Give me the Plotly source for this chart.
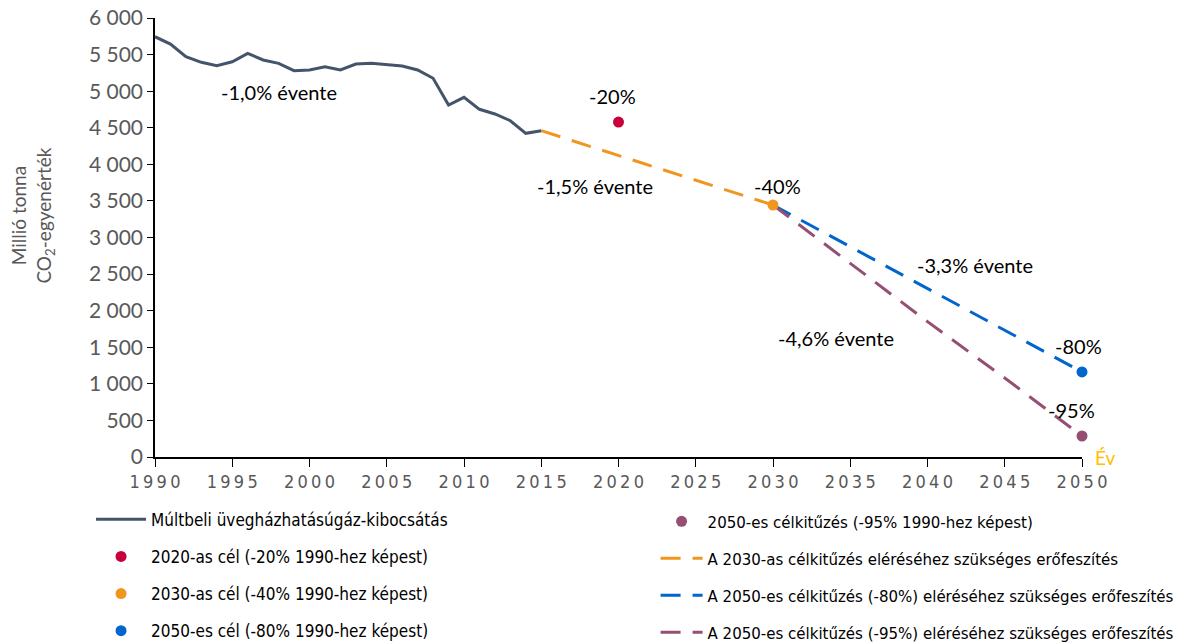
import plotly.graph_objects as go

# ---- data ----
hist_years = list(range(1990, 2016))
hist_values = [5744, 5644, 5471, 5394, 5348, 5402, 5517, 5426, 5380, 5280,
               5289, 5334, 5289, 5371, 5380, 5357, 5344, 5289, 5176, 4811,
               4916, 4752, 4688, 4596, 4424, 4460]

target2020_year = [2020]
target2020_value = [4578]
target2030_year = [2030]
target2030_value = [3444]
target2050_80_year = [2050]
target2050_80_value = [1162]
target2050_95_year = [2050]
target2050_95_value = [287]

path2030_years = [2015, 2020, 2025, 2030]
path2030_values = [4460, 4121, 3783, 3444]
path2050_80_years = [2030, 2035, 2040, 2045, 2050]
path2050_80_values = [3444, 2874, 2300, 1730, 1162]
path2050_95_years = [2030, 2035, 2040, 2045, 2050]
path2050_95_values = [3444, 2650, 1850, 1080, 287]

x_ticks = [1990, 1995, 2000, 2005, 2010, 2015, 2020, 2025, 2030, 2035, 2040, 2045, 2050]
y_ticks = [0, 500, 1000, 1500, 2000, 2500, 3000, 3500, 4000, 4500, 5000, 5500, 6000]

names = [
    "Múltbeli üvegházhatásúgáz-kibocsátás",
    "2020-as cél (-20% 1990-hez képest)",
    "2030-as cél (-40% 1990-hez képest)",
    "2050-es cél (-80% 1990-hez képest)",
    "2050-es célkitűzés (-95% 1990-hez képest)",
    "A 2030-as célkitűzés eléréséhez szükséges erőfeszítés",
    "A 2050-es célkitűzés (-80%) eléréséhez szükséges erőfeszítés",
    "A 2050-es célkitűzés (-95%) eléréséhez szükséges erőfeszítés",
]

label_texts = ["-1,0% évente", "-20%", "-1,5% évente", "-40%",
               "-3,3% évente", "-4,6% évente", "-80%", "-95%"]
label_x = [1998.0, 2019.6, 2018.5, 2030.3, 2043.1, 2034.1, 2049.8, 2049.3]
label_y = [4990, 4934, 3704, 3704, 2624, 1626, 1517, 642]

C_HIST = "#44546A"
C_RED = "#C8003C"
C_ORANGE = "#F0961E"
C_BLUE = "#0066CC"
C_PURPLE = "#954F72"

TXT = "Lato, Open Sans, sans-serif"
NARROW = "Liberation Sans Narrow, DejaVu Sans Condensed, Liberation Sans, sans-serif"
GREY = "#595959"

fig = go.Figure()
DASH = "20px,12px"

fig.add_trace(go.Scatter(x=path2030_years, y=path2030_values, mode="lines", name=names[5],
                         line=dict(color=C_ORANGE, width=3, dash=DASH), legend="legend2",
                         legendgroup="r2", legendrank=2, cliponaxis=False))
fig.add_trace(go.Scatter(x=path2050_80_years, y=path2050_80_values, mode="lines", name=names[6],
                         line=dict(color=C_BLUE, width=3, dash=DASH), legend="legend2",
                         legendgroup="r3", legendrank=3, cliponaxis=False))
fig.add_trace(go.Scatter(x=path2050_95_years, y=path2050_95_values, mode="lines", name=names[7],
                         line=dict(color=C_PURPLE, width=3, dash=DASH), legend="legend2",
                         legendgroup="r4", legendrank=4, cliponaxis=False))

fig.add_trace(go.Scatter(x=hist_years, y=hist_values, mode="lines", name=names[0],
                         line=dict(color=C_HIST, width=3), legendgroup="l1", legendrank=1,
                         cliponaxis=False))
fig.add_trace(go.Scatter(x=target2020_year, y=target2020_value, mode="markers", name=names[1],
                         marker=dict(color=C_RED, size=11), legendgroup="l2", legendrank=2,
                         cliponaxis=False))
fig.add_trace(go.Scatter(x=target2030_year, y=target2030_value, mode="markers", name=names[2],
                         marker=dict(color=C_ORANGE, size=11), legendgroup="l3", legendrank=3,
                         cliponaxis=False))
fig.add_trace(go.Scatter(x=target2050_80_year, y=target2050_80_value, mode="markers", name=names[3],
                         marker=dict(color=C_BLUE, size=11), legendgroup="l4", legendrank=4,
                         cliponaxis=False))
fig.add_trace(go.Scatter(x=target2050_95_year, y=target2050_95_value, mode="markers", name=names[4],
                         marker=dict(color=C_PURPLE, size=11), legend="legend2",
                         legendgroup="r1", legendrank=1, cliponaxis=False))

annotations = []
for t, xv, yv in zip(label_texts, label_x, label_y):
    annotations.append(dict(x=xv, y=yv, xref="x", yref="y", text=t, showarrow=False,
                            xanchor="center", yanchor="middle",
                            font=dict(family=TXT, size=20, color="#000000")))

annotations.append(dict(x=1.012, y=0, xref="paper", yref="y", text="Év", showarrow=False,
                        xanchor="left", yanchor="middle",
                        font=dict(family=TXT, size=19, color="#FFC000")))
annotations.append(dict(x=-0.1316, y=0.55, xref="paper", yref="paper",
                        text="Millió tonna<br>CO<sub>2</sub>-egyenérték",
                        textangle=-90, showarrow=False, xanchor="center", yanchor="middle",
                        font=dict(family=TXT, size=19, color=GREY)))

sp = "\u2009"
fig.update_layout(
    width=1182, height=642,
    margin=dict(l=155, r=100, t=18, b=185, autoexpand=False),
    plot_bgcolor="white", paper_bgcolor="white",
    separators=", ",
    showlegend=True,
    annotations=annotations,
    xaxis=dict(range=[1990, 2050], tickvals=x_ticks,
               ticktext=[sp.join(str(v)) for v in x_ticks],
               showgrid=False, zeroline=False, showline=True, linecolor="#000000", linewidth=1.5,
               ticks="outside", ticklen=8, tickcolor="#000000",
               tickfont=dict(family=NARROW, size=18, color=GREY)),
    yaxis=dict(range=[0, 6000], tickvals=y_ticks, tickformat=",d",
               showgrid=False, zeroline=False, showline=True, linecolor="#000000", linewidth=1.5,
               ticks="outside", ticklen=6, tickcolor="#000000",
               tickfont=dict(family=TXT, size=21, color=GREY)),
    legend=dict(x=-0.0690, y=-0.102, xanchor="left", yanchor="top", orientation="v",
                traceorder="grouped", tracegroupgap=12, bgcolor="rgba(0,0,0,0)",
                font=dict(family=NARROW, size=17, color="#000000"), itemwidth=50),
    legend2=dict(x=0.540, y=-0.107, xanchor="left", yanchor="top", orientation="v",
                 traceorder="grouped", tracegroupgap=12.3, bgcolor="rgba(0,0,0,0)",
                 font=dict(family=NARROW, size=16.7, color="#000000"), itemwidth=42),
)

fig.write_html("out.html", config={"displayModeBar": False},
               post_script="document.body.style.margin='0';")
